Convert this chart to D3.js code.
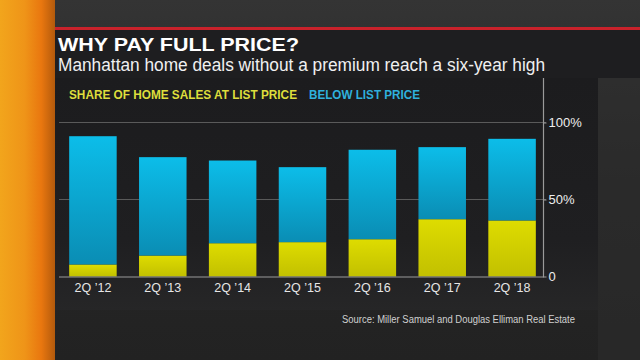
<!DOCTYPE html>
<html><head><meta charset="utf-8">
<script src="https://cdn.jsdelivr.net/npm/d3@7"></script>
<style>html,body{margin:0;padding:0;background:#262626;}svg{display:block;}</style>
</head><body>
<script>
const categories = ["2Q \u201912","2Q \u201913","2Q \u201914","2Q \u201915","2Q \u201916","2Q \u201917","2Q \u201918"];
const atListPrice = [7.8, 13.6, 21.6, 22.3, 24.2, 37.2, 36.4];
const belowListPrice = [83.3, 63.9, 53.7, 48.7, 58.1, 46.8, 53.0];
const yTicks = [0, 50, 100];
const yTickLabels = ["0", "50%", "100%"];
const seriesNames = ["SHARE OF HOME SALES AT LIST PRICE", "BELOW LIST PRICE"];
const title = "WHY PAY FULL PRICE?";
const subtitle = "Manhattan home deals without a premium reach a six-year high";
const source = "Source: Miller Samuel and Douglas Elliman Real Estate";

const W = 640, H = 360;
const svg = d3.select("body").append("svg").attr("width", W).attr("height", H);
const defs = svg.append("defs");

const bg = defs.append("linearGradient").attr("id","bg").attr("x1",0).attr("y1",0).attr("x2",0).attr("y2",1);
bg.append("stop").attr("offset",0).attr("stop-color","#343434");
bg.append("stop").attr("offset",0.5).attr("stop-color","#272727");
bg.append("stop").attr("offset",1).attr("stop-color","#222222");
const og = defs.append("linearGradient").attr("id","og").attr("x1",0).attr("y1",0).attr("x2",1).attr("y2",0);
og.append("stop").attr("offset",0).attr("stop-color","#f2a51c");
og.append("stop").attr("offset",0.45).attr("stop-color","#ef9418");
og.append("stop").attr("offset",0.75).attr("stop-color","#e9770f");
og.append("stop").attr("offset",1).attr("stop-color","#b35a0c");
const blueG = defs.append("linearGradient").attr("id","blueG").attr("x1",0).attr("y1",0).attr("x2",0).attr("y2",1);
blueG.append("stop").attr("offset",0).attr("stop-color","#0cbde9");
blueG.append("stop").attr("offset",1).attr("stop-color","#0a8db4");
const yelG = defs.append("linearGradient").attr("id","yelG").attr("x1",0).attr("y1",0).attr("x2",0).attr("y2",1);
yelG.append("stop").attr("offset",0).attr("stop-color","#dedc00");
yelG.append("stop").attr("offset",1).attr("stop-color","#c2c000");
const pg = defs.append("linearGradient").attr("id","pg").attr("x1",0).attr("y1",0).attr("x2",0).attr("y2",1);
pg.append("stop").attr("offset",0).attr("stop-color","#1c1c1e");
pg.append("stop").attr("offset",0.7).attr("stop-color","#1f1f21");
pg.append("stop").attr("offset",1).attr("stop-color","#262627");

svg.append("rect").attr("width",W).attr("height",H).attr("fill","url(#bg)");
svg.append("rect").attr("x",598).attr("y",78).attr("width",42).attr("height",282).attr("fill","#2e2e2e").attr("opacity",0.5);
svg.append("rect").attr("x",0).attr("y",0).attr("width",55).attr("height",H).attr("fill","url(#og)");

svg.append("rect").attr("x",55).attr("y",29).attr("width",585).attr("height",49).attr("fill","#1e1e20");
svg.append("rect").attr("x",55).attr("y",27).attr("width",585).attr("height",3).attr("fill","#c9222b");
svg.append("rect").attr("x",55).attr("y",78).attr("width",543).attr("height",232).attr("fill","url(#pg)");

svg.append("text").attr("x",58).attr("y",50.5).text(title)
  .attr("font-family","Liberation Sans, Arial, sans-serif").attr("font-weight","bold").attr("font-size",19)
  .attr("fill","#ffffff").attr("textLength",241).attr("lengthAdjust","spacingAndGlyphs");
svg.append("text").attr("x",58).attr("y",70.5).text(subtitle)
  .attr("font-family","Liberation Sans, Arial, sans-serif").attr("font-size",17.5)
  .attr("fill","#f0f0f0").attr("textLength",487).attr("lengthAdjust","spacingAndGlyphs");

const x = d3.scaleBand().domain(categories).range([58, 547]).paddingInner(0.32).paddingOuter(0.16);
const y = d3.scaleLinear().domain([0, 100]).range([276.5, 122.5]);

svg.append("g").selectAll("line").data(yTicks.filter(d=>d>0)).join("line")
  .attr("x1",59).attr("x2",546).attr("y1",d=>y(d)).attr("y2",d=>y(d))
  .attr("stroke","#5a5a5a").attr("stroke-width",1);

const rows = categories.map((c,i)=>({cat:c, at:atListPrice[i], below:belowListPrice[i]}));
const stack = d3.stack().keys(["at","below"])(rows);
const fills = ["url(#yelG)","url(#blueG)"];
svg.append("g").selectAll("g").data(stack).join("g").attr("fill",(d,i)=>fills[i])
  .selectAll("rect").data(d=>d).join("rect")
  .attr("x",d=>x(d.data.cat)).attr("width",x.bandwidth())
  .attr("y",d=>y(d[1])).attr("height",d=>y(d[0])-y(d[1]));

svg.append("line").attr("x1",59).attr("x2",543.5).attr("y1",y(0)+0.5).attr("y2",y(0)+0.5)
  .attr("stroke","#9a9a9a").attr("stroke-width",1.2);

const yAxis = d3.axisRight(y).tickValues(yTicks).tickSize(3).tickPadding(2)
  .tickFormat(d=>yTickLabels[yTicks.indexOf(d)]);
const ya = svg.append("g").attr("transform","translate(543.5,0)").call(yAxis);
ya.select(".domain").remove();
ya.selectAll(".tick line").attr("stroke","#9a9a9a");
ya.selectAll(".tick text").attr("fill","#eeeeee").attr("font-size",13)
  .attr("font-family","Liberation Sans, Arial, sans-serif");
svg.append("line").attr("x1",543.5).attr("x2",543.5).attr("y1",78).attr("y2",y(0)+1)
  .attr("stroke","#9a9a9a").attr("stroke-width",1.2);

const xAxis = d3.axisBottom(x).tickSize(0).tickPadding(6);
const xa = svg.append("g").attr("transform",`translate(0,${y(0)+1})`).call(xAxis);
xa.select(".domain").remove();
xa.selectAll(".tick text").attr("fill","#e6e6e6").attr("font-size",12.5)
  .attr("font-family","Liberation Sans, Arial, sans-serif");

const leg = svg.append("g").attr("font-family","Liberation Sans, Arial, sans-serif")
  .attr("font-weight","bold").attr("font-size",12.5);
leg.append("text").attr("x",69).attr("y",98.5).text(seriesNames[0]).attr("fill","#dede3c")
  .attr("textLength",228).attr("lengthAdjust","spacingAndGlyphs");
leg.append("text").attr("x",309).attr("y",98.5).text(seriesNames[1]).attr("fill","#2fb0dc")
  .attr("textLength",111).attr("lengthAdjust","spacingAndGlyphs");

svg.append("text").attr("x",342).attr("y",322.5).text(source)
  .attr("font-family","Liberation Sans, Arial, sans-serif").attr("font-size",10)
  .attr("fill","#d0d0d0").attr("textLength",233).attr("lengthAdjust","spacingAndGlyphs");
</script>
</body></html>
